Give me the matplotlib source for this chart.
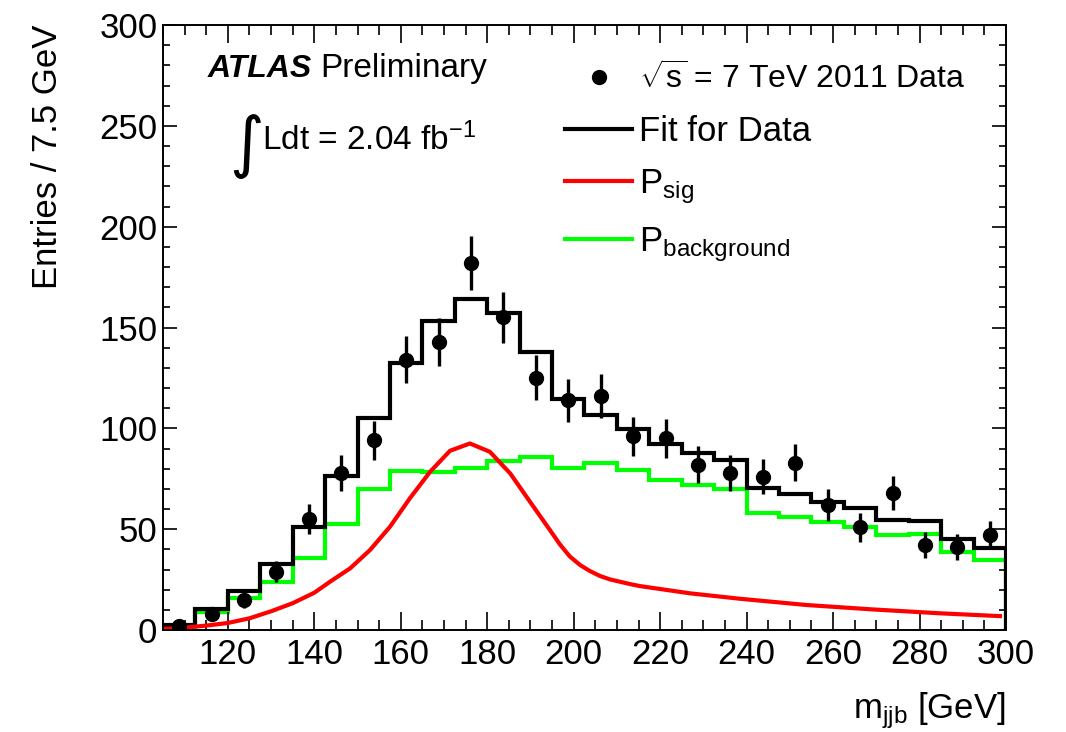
import numpy as np
import matplotlib.pyplot as plt
from matplotlib.lines import Line2D

# m_jjb binning: 26 bins of 7.5 GeV from 105 to 300
edges = np.arange(105, 300.1, 7.5)
centers = 0.5 * (edges[:-1] + edges[1:])

# data points (entries per bin)
data = [2, 8, 15, 29, 55, 78, 94, 134, 143, 182, 155, 125, 114,
        116, 96, 95, 82, 78, 76, 83, 62, 51, 68, 42, 41, 47]

# fit for data (black histogram)
fit_total = [2.5, 10.2, 19.5, 32.7, 51.2, 76.3, 105, 132.2, 153.2, 164, 157, 138, 114.4,
             106.6, 99.5, 92.2, 87.9, 84.3, 70.6, 67.4, 63.6, 60.3, 54.5, 54.2, 45.3, 40.5]

# background component (green histogram)
fit_bkg = [1.7, 9, 15.7, 24, 35.5, 52.5, 69.7, 79, 78.2, 80.2, 83.9, 85.9, 80.2,
           82.6, 79.3, 74.4, 71.9, 69.7, 58.2, 56.2, 53.5, 51.2, 46.9, 47.6, 38.7, 34.7]

# signal pdf (red curve)
sig_x = [105, 110, 115, 120, 125, 130, 135, 140, 143.6, 148.3, 152.9, 157.5, 162.1, 166.8,
         171.4, 176, 180.6, 185.3, 189.9, 194.5, 196.8, 199.1, 201.5, 203.8, 206.1, 208.4,
         213, 215.3, 226.9, 238.5, 253.9, 269.3, 284.7, 298.6]
sig_y = [0.5, 1.2, 2.2, 3.5, 5.8, 9.3, 13.3, 18.5, 23.9, 30.6, 39.7, 51.2, 65.3, 78.5,
         88.9, 92.5, 88.4, 77.7, 63.6, 49.6, 42.5, 36.5, 32.2, 29.2, 26.8, 25.1,
         22.8, 21.8, 18.2, 15.5, 12.4, 10.2, 8.3, 6.9]

plt.rcParams['font.family'] = ['Liberation Sans', 'DejaVu Sans']
plt.rcParams['mathtext.fontset'] = 'custom'
plt.rcParams['mathtext.rm'] = 'Liberation Sans'
plt.rcParams['mathtext.it'] = 'Liberation Sans:italic'
plt.rcParams['mathtext.bf'] = 'Liberation Sans:bold'

fig = plt.figure(figsize=(10.66, 7.32), dpi=100)
ax = fig.add_axes([0.1529, 0.1393, 0.7908, 0.8265])

ax.stairs(fit_bkg, edges, color='#00ff00', linewidth=3)
ax.stairs(fit_total, edges, color='black', linewidth=3)
ax.plot(sig_x, sig_y, color='#ff0000', linewidth=3, solid_joinstyle='round')
ax.errorbar(centers, data, yerr=np.sqrt(data), fmt='o', color='black',
            markersize=10, elinewidth=2.4, capsize=0)

ax.set_xlim(105, 300)
ax.set_ylim(0, 300)
ax.set_xticks(np.arange(120, 301, 20))
ax.set_xticks(np.arange(105, 301, 5), minor=True)
ax.set_yticks(np.arange(0, 301, 50))
ax.set_yticks(np.arange(0, 301, 10), minor=True)
ax.tick_params(which='both', direction='in', top=True, right=True, labelsize=25, width=1.2)
ax.tick_params(axis='x', which='major', length=13, pad=6)
ax.tick_params(axis='x', which='minor', length=7)
ax.tick_params(axis='y', which='major', length=10, pad=4)
ax.tick_params(axis='y', which='minor', length=5)
for s in ax.spines.values():
    s.set_linewidth(1.4)

ax.set_xlabel(r'm$_{\mathrm{jjb}}$ [GeV]', fontsize=25, ha='right')
ax.xaxis.set_label_coords(1.0, -0.1)
ax.set_ylabel('Entries / 7.5 GeV', fontsize=25, ha='right')
ax.yaxis.set_label_coords(-0.117, 1.0)

# labels
ax.text(0.053, 0.928, 'ATLAS', transform=ax.transAxes, fontsize=23,
        fontweight='bold', fontstyle='italic', va='center')
ax.text(0.187, 0.928, 'Preliminary', transform=ax.transAxes, fontsize=24, va='center')
ax.text(0.078, 0.80, '\u222b', transform=ax.transAxes, fontsize=48,
        family='DejaVu Sans', va='center')
ax.text(0.117, 0.81, r'Ldt = 2.04 fb$^{-1}$', transform=ax.transAxes, fontsize=24, va='center')

handles = [
    Line2D([], [], marker='o', color='black', linestyle='none', markersize=10),
    Line2D([], [], color='black', linewidth=3),
    Line2D([], [], color='#ff0000', linewidth=3),
    Line2D([], [], color='#00ff00', linewidth=3),
]
labels = [r'$\sqrt{\mathrm{s}}$ = 7 TeV 2011 Data', 'Fit for Data',
          r'P$_{\mathrm{sig}}$', r'P$_{\mathrm{background}}$']
leg = ax.legend(handles, labels, loc='upper left', bbox_to_anchor=(0.46, 0.96),
                frameon=False, fontsize=25, handlelength=1.95, handletextpad=0.2,
                labelspacing=0.55, borderaxespad=0)
leg.get_texts()[0].set_fontsize(23)

fig.savefig('out.png', dpi=100)
